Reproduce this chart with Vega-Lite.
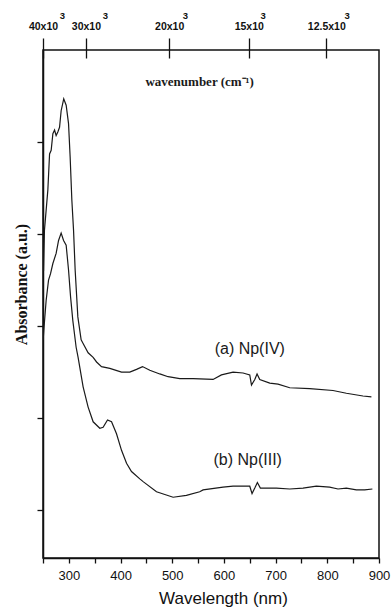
{
  "$schema": "https://vega.github.io/schema/vega-lite/v6.json",
  "width": 336,
  "height": 508,
  "autosize": {"type": "none"},
  "padding": {"left": 43, "top": 50, "right": 13, "bottom": 50},
  "background": "white",
  "config": {
    "view": {"stroke": "#111", "strokeWidth": 1.5},
    "axis": {"domainColor": "#111", "tickColor": "#111", "labelColor": "#111", "titleColor": "#111", "grid": false, "domainWidth": 1.5, "tickWidth": 1.3, "labelOverlap": false, "labelFlush": false, "labelBound": false}
  },
  "datasets": {
    "spectra": [
      {"s": "a", "wl": 251, "abs": 2.6},
      {"s": "a", "wl": 252.8, "abs": 3.04},
      {"s": "a", "wl": 259.4, "abs": 3.48},
      {"s": "a", "wl": 262.7, "abs": 3.87},
      {"s": "a", "wl": 265.8, "abs": 3.91},
      {"s": "a", "wl": 269.1, "abs": 4.09},
      {"s": "a", "wl": 272.4, "abs": 4.13},
      {"s": "a", "wl": 275.4, "abs": 4.07},
      {"s": "a", "wl": 278.7, "abs": 4.11},
      {"s": "a", "wl": 282.0, "abs": 4.16},
      {"s": "a", "wl": 285.1, "abs": 4.34},
      {"s": "a", "wl": 290.1, "abs": 4.47},
      {"s": "a", "wl": 294.8, "abs": 4.40},
      {"s": "a", "wl": 299.4, "abs": 4.20},
      {"s": "a", "wl": 302.5, "abs": 3.84},
      {"s": "a", "wl": 305.8, "abs": 3.37},
      {"s": "a", "wl": 309.1, "abs": 3.04},
      {"s": "a", "wl": 312.2, "abs": 2.61},
      {"s": "a", "wl": 317.4, "abs": 2.10},
      {"s": "a", "wl": 323.8, "abs": 1.85},
      {"s": "a", "wl": 327.6, "abs": 1.81},
      {"s": "a", "wl": 337.3, "abs": 1.71},
      {"s": "a", "wl": 347.0, "abs": 1.66},
      {"s": "a", "wl": 353.6, "abs": 1.61},
      {"s": "a", "wl": 363.2, "abs": 1.56},
      {"s": "a", "wl": 379.3, "abs": 1.54},
      {"s": "a", "wl": 401.9, "abs": 1.50},
      {"s": "a", "wl": 417.9, "abs": 1.50},
      {"s": "a", "wl": 430.9, "abs": 1.53},
      {"s": "a", "wl": 442.5, "abs": 1.56},
      {"s": "a", "wl": 456.6, "abs": 1.52},
      {"s": "a", "wl": 475.9, "abs": 1.48},
      {"s": "a", "wl": 492.0, "abs": 1.45},
      {"s": "a", "wl": 514.6, "abs": 1.43},
      {"s": "a", "wl": 540.3, "abs": 1.43},
      {"s": "a", "wl": 579.0, "abs": 1.42},
      {"s": "a", "wl": 595.2, "abs": 1.47},
      {"s": "a", "wl": 617.7, "abs": 1.50},
      {"s": "a", "wl": 637.0, "abs": 1.49},
      {"s": "a", "wl": 650.0, "abs": 1.47},
      {"s": "a", "wl": 653.3, "abs": 1.36},
      {"s": "a", "wl": 659.7, "abs": 1.42},
      {"s": "a", "wl": 664.1, "abs": 1.48},
      {"s": "a", "wl": 669.3, "abs": 1.42},
      {"s": "a", "wl": 688.7, "abs": 1.38},
      {"s": "a", "wl": 704.7, "abs": 1.37},
      {"s": "a", "wl": 727.3, "abs": 1.33},
      {"s": "a", "wl": 766.0, "abs": 1.32},
      {"s": "a", "wl": 811.0, "abs": 1.30},
      {"s": "a", "wl": 836.9, "abs": 1.27},
      {"s": "a", "wl": 869.0, "abs": 1.24},
      {"s": "a", "wl": 885.3, "abs": 1.23},
      {"s": "b", "wl": 250.3, "abs": 1.85},
      {"s": "b", "wl": 251.5, "abs": 1.95},
      {"s": "b", "wl": 256.1, "abs": 2.28},
      {"s": "b", "wl": 260.7, "abs": 2.50},
      {"s": "b", "wl": 264.6, "abs": 2.57},
      {"s": "b", "wl": 269.1, "abs": 2.68},
      {"s": "b", "wl": 275.4, "abs": 2.79},
      {"s": "b", "wl": 280.1, "abs": 2.93},
      {"s": "b", "wl": 285.1, "abs": 3.01},
      {"s": "b", "wl": 289.8, "abs": 2.93},
      {"s": "b", "wl": 294.8, "abs": 2.88},
      {"s": "b", "wl": 299.4, "abs": 2.61},
      {"s": "b", "wl": 303.3, "abs": 2.32},
      {"s": "b", "wl": 307.7, "abs": 2.06},
      {"s": "b", "wl": 314.1, "abs": 1.77},
      {"s": "b", "wl": 317.9, "abs": 1.66},
      {"s": "b", "wl": 327.6, "abs": 1.34},
      {"s": "b", "wl": 337.3, "abs": 1.12},
      {"s": "b", "wl": 347.0, "abs": 0.96},
      {"s": "b", "wl": 359.9, "abs": 0.89},
      {"s": "b", "wl": 366.3, "abs": 0.90},
      {"s": "b", "wl": 374.8, "abs": 0.98},
      {"s": "b", "wl": 382.6, "abs": 0.96},
      {"s": "b", "wl": 392.2, "abs": 0.83},
      {"s": "b", "wl": 401.9, "abs": 0.65},
      {"s": "b", "wl": 411.6, "abs": 0.51},
      {"s": "b", "wl": 421.2, "abs": 0.42},
      {"s": "b", "wl": 437.3, "abs": 0.34},
      {"s": "b", "wl": 443.7, "abs": 0.31},
      {"s": "b", "wl": 469.6, "abs": 0.20},
      {"s": "b", "wl": 501.7, "abs": 0.14},
      {"s": "b", "wl": 527.4, "abs": 0.16},
      {"s": "b", "wl": 553.1, "abs": 0.20},
      {"s": "b", "wl": 559.7, "abs": 0.22},
      {"s": "b", "wl": 598.3, "abs": 0.25},
      {"s": "b", "wl": 617.7, "abs": 0.26},
      {"s": "b", "wl": 650.0, "abs": 0.26},
      {"s": "b", "wl": 654.4, "abs": 0.18},
      {"s": "b", "wl": 659.7, "abs": 0.24},
      {"s": "b", "wl": 664.7, "abs": 0.30},
      {"s": "b", "wl": 670.5, "abs": 0.24},
      {"s": "b", "wl": 701.4, "abs": 0.24},
      {"s": "b", "wl": 727.3, "abs": 0.23},
      {"s": "b", "wl": 753.0, "abs": 0.24},
      {"s": "b", "wl": 778.8, "abs": 0.26},
      {"s": "b", "wl": 804.6, "abs": 0.25},
      {"s": "b", "wl": 820.7, "abs": 0.23},
      {"s": "b", "wl": 836.9, "abs": 0.24},
      {"s": "b", "wl": 856.2, "abs": 0.22},
      {"s": "b", "wl": 872.3, "abs": 0.22},
      {"s": "b", "wl": 887.2, "abs": 0.23}
    ],
    "labels": [
      {"kind": "curve", "wl": 650, "abs": 1.75, "text": "(a) Np(IV)"},
      {"kind": "curve", "wl": 646, "abs": 0.54, "text": "(b) Np(III)"},
      {"kind": "top", "wl": 553, "abs": 4.65, "text": "wavenumber (cm⁻¹)"}
    ]
  },
  "resolve": {"axis": {"x": "independent"}},
  "layer": [
    {
      "data": {"name": "spectra"},
      "mark": {"type": "line", "color": "#1a1a1a", "strokeWidth": 1.2, "clip": true},
      "encoding": {
        "x": {
          "field": "wl", "type": "quantitative",
          "scale": {"domain": [250, 900], "nice": false, "zero": false},
          "axis": {
            "orient": "bottom",
            "values": [250, 300, 350, 400, 450, 500, 550, 600, 650, 700, 750, 800, 850, 900],
            "labelExpr": "datum.value % 100 == 0 ? datum.label : ''",
            "tickSize": 5,
            "labelFont": "Liberation Sans", "labelFontSize": 13, "labelPadding": 6,
            "labelBaseline": "top",
            "title": "Wavelength (nm)",
            "titleFont": "Liberation Sans", "titleFontSize": 17, "titleFontWeight": "normal",
            "titleX": 180, "titleY": 45, "titleBaseline": "alphabetic", "titleAnchor": "middle"
          }
        },
        "y": {
          "field": "abs", "type": "quantitative",
          "scale": {"domain": [-0.52, 5], "nice": false, "zero": false},
          "axis": {
            "values": [0, 1, 2, 3, 4],
            "labels": false,
            "tickSize": 6,
            "title": "Absorbance  (a.u.)",
            "titleFont": "Liberation Serif", "titleFontSize": 16, "titleFontWeight": "bold",
            "titleX": -22, "titleY": 234, "titleBaseline": "middle", "titleAngle": -90, "titleAnchor": "middle"
          }
        },
        "detail": {"field": "s", "type": "nominal"}
      }
    },
    {
      "data": {"name": "labels"},
      "transform": [{"filter": "datum.kind == 'curve'"}],
      "mark": {"type": "text", "font": "Liberation Sans", "fontSize": 16, "color": "#1a1a1a", "align": "center", "baseline": "middle"},
      "encoding": {
        "x": {
          "field": "wl", "type": "quantitative",
          "axis": {
            "orient": "top",
            "values": [250, 333, 494, 648, 798],
            "labelExpr": "datum.value < 300 ? '40x10' : datum.value < 400 ? '30x10' : datum.value < 550 ? '20x10' : datum.value < 700 ? '15x10' : '12.5x10'",
            "domain": false,
            "offset": -8,
            "tickSize": 20,
            "labelFont": "Liberation Sans", "labelFontSize": 10.5, "labelFontWeight": "bold",
            "labelPadding": 7,
            "labelDx": 2,
            "title": null
          }
        },
        "y": {"field": "abs", "type": "quantitative"},
        "text": {"field": "text"}
      }
    },
    {
      "data": {"name": "labels"},
      "transform": [{"filter": "datum.kind == 'top'"}],
      "mark": {"type": "text", "font": "Liberation Serif", "fontSize": 13, "fontWeight": "bold", "color": "#1a1a1a", "align": "center", "baseline": "middle"},
      "encoding": {
        "x": {
          "field": "wl", "type": "quantitative",
          "axis": {
            "orient": "top",
            "values": [286.5, 369.6, 524.3, 675.1, 837.5],
            "labelExpr": "'3'",
            "domain": false,
            "ticks": false,
            "tickSize": 0,
            "labelFont": "Liberation Sans", "labelFontSize": 9.5, "labelFontWeight": "bold",
            "labelPadding": 30,
            "title": null
          }
        },
        "y": {"field": "abs", "type": "quantitative"},
        "text": {"field": "text"}
      }
    }
  ]
}
